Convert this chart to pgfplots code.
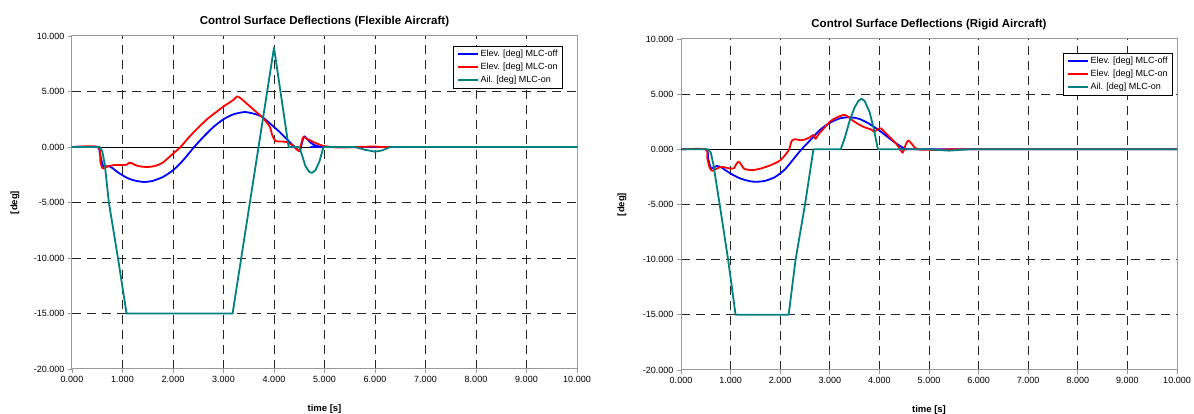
\documentclass[border=0pt]{standalone}
\usepackage{fontspec}
\setmainfont{Liberation Sans}
\usepackage{pgfplots}
\pgfplotsset{compat=1.18}
\definecolor{elevoff}{RGB}{0,0,255}
\definecolor{elevon}{RGB}{255,0,0}
\definecolor{ail}{RGB}{0,128,128}

\pgfplotsset{
  csd/.style={
    scale only axis,
    xmin=0, xmax=10, ymin=-20, ymax=10,
    xtick={1,2,...,9}, ytick={-15,-10,...,5},
    extra x ticks={0,10}, extra y ticks={-20,10},
    extra tick style={grid=none},
    grid=major,
    major grid style={black!85, line width=0.8pt, dash pattern=on 9pt off 6pt},
    axis line style={gray!80, line width=1pt},
    tick style={gray!80, line width=0.8pt},
    tick align=outside, major tick length=4pt,
    xtick pos=left, ytick pos=left,
    ticklabel style={font=\fontsize{9}{10}\selectfont},
    /pgf/number format/fixed,
    /pgf/number format/fixed zerofill,
    /pgf/number format/precision=3,
    /pgf/number format/assume math mode=true,
    xlabel={time [s]}, ylabel={[deg]},
    every axis x label/.style={at={(axis description cs:0.5,-0.12)}, anchor=center,
      font=\bfseries\fontsize{9.5}{11}\selectfont},
    every axis y label/.style={at={(axis description cs:-0.113,0.5)}, rotate=90, anchor=center,
      font=\bfseries\fontsize{9.5}{11}\selectfont},
    title style={font=\bfseries\fontsize{11.5}{13}\selectfont},
    legend style={draw=black, line width=0.6pt, fill=white,
      font=\fontsize{9}{10}\selectfont, anchor=north east,
      inner xsep=3pt, inner ysep=2pt, row sep=1pt},
    legend cell align=left,
    legend image code/.code={\draw[#1, line width=2pt] (0pt,0pt) -- (20pt,0pt);},
    every axis plot/.append style={line width=1.8pt, line join=round},
  }
}

\begin{document}
\begin{tikzpicture}
\useasboundingbox (0,0) rectangle (1194pt,414pt);

% flexible aircraft
\begin{axis}[csd, at={(72pt,45pt)}, anchor=south west,
  width=505pt, height=333pt,
  title={Control Surface Deflections (Flexible Aircraft)},
  legend style={at={(1,1)}, xshift=-14pt, yshift=-10pt}]
\addplot[black, line width=0.8pt, forget plot] coordinates {(0,0) (10,0)};
\addplot[elevoff, smooth, tension=0.4] coordinates {
(0,0)(0.5,0)(0.55,-0.6)(0.6,-1.5)(0.63,-1.8)(0.68,-1.75)(0.73,-1.72)(0.8,-1.9)
(0.9,-2.25)(1.0,-2.55)(1.1,-2.8)(1.2,-2.97)(1.3,-3.08)(1.44,-3.15)(1.6,-3.05)
(1.8,-2.7)(2.0,-2.1)(2.2,-1.2)(2.42,0)(2.6,0.9)(2.8,1.8)(3.0,2.5)(3.2,2.95)
(3.42,3.15)(3.6,3.0)(3.75,2.76)(3.9,2.2)(4.0,1.8)(4.1,1.4)(4.2,0.95)(4.31,0.45)
(4.4,0.05)(4.51,-0.36)(4.56,0.5)(4.6,0.96)(4.66,0.7)(4.72,0.4)(4.8,0.18)(4.91,0.03)(5.0,0)(10,0)};
\addplot[elevon, smooth, tension=0.4] coordinates {
(0,0)(0.52,0)(0.56,-1.3)(0.6,-1.9)(0.63,-1.95)(0.68,-1.8)(0.75,-1.7)(0.85,-1.62)
(1.0,-1.62)(1.08,-1.6)(1.13,-1.42)(1.18,-1.45)(1.25,-1.62)(1.35,-1.75)(1.5,-1.8)
(1.65,-1.7)(1.8,-1.4)(2.0,-0.6)(2.15,0)(2.3,0.8)(2.5,1.75)(2.7,2.6)(2.9,3.3)
(3.0,3.65)(3.15,4.1)(3.2,4.25)(3.27,4.56)(3.35,4.35)(3.45,3.95)(3.6,3.35)
(3.75,2.75)(3.85,2.25)(3.92,1.8)(3.97,1.0)(4.03,0.55)(4.1,0.5)(4.25,0.45)
(4.38,0.1)(4.5,-0.36)(4.55,0.5)(4.58,0.9)(4.65,0.75)(4.78,0.45)(4.9,0.22)
(5.0,0.08)(5.3,-0.05)(6.0,0.05)(6.3,0)(10,0)};
\addplot[ail] coordinates {
(0,0)(0.55,0)(0.6,-0.4)(0.65,-1.6)(0.73,-5)(0.91,-10)(1.08,-15)(3.18,-15)
(4.0,8.95)(4.29,0)(4.5,0)(4.56,-0.8)(4.62,-1.7)(4.7,-2.25)(4.75,-2.33)
(4.82,-2.1)(4.9,-1.3)(4.98,0)(5.6,0)(5.8,-0.25)(6.0,-0.42)(6.15,-0.3)(6.3,0)(10,0)};
\legend{Elev. [deg] MLC-off, Elev. [deg] MLC-on, Ail. [deg] MLC-on}
\end{axis}

% rigid aircraft
\begin{axis}[csd, at={(681pt,44pt)}, anchor=south west,
  width=496pt, height=331pt,
  title={Control Surface Deflections (Rigid Aircraft)},
  ylabel style={at={(axis description cs:-0.119,0.5)}},
  legend style={at={(1,1)}, xshift=-4pt, yshift=-14pt}]
\addplot[black, line width=0.8pt, forget plot] coordinates {(0,0) (10,0)};
\addplot[elevoff, smooth, tension=0.4] coordinates {
(0,0)(0.5,0)(0.55,-0.9)(0.6,-1.7)(0.65,-1.65)(0.72,-1.52)(0.8,-1.6)(1.0,-2.2)
(1.2,-2.65)(1.4,-2.9)(1.54,-2.94)(1.7,-2.85)(1.9,-2.5)(2.1,-1.8)(2.3,-0.7)
(2.43,0)(2.6,0.8)(2.8,1.75)(3.0,2.4)(3.2,2.8)(3.4,2.91)(3.6,2.75)(3.8,2.3)
(4.0,1.7)(4.2,1.0)(4.4,0.35)(4.55,0)(4.7,0)(10,0)};
\addplot[elevon, smooth, tension=0.4] coordinates {
(0,0)(0.5,0)(0.53,-0.8)(0.58,-1.7)(0.63,-1.95)(0.7,-1.8)(0.8,-1.6)(0.9,-1.65)
(1.0,-1.75)(1.07,-1.7)(1.12,-1.3)(1.16,-1.12)(1.2,-1.3)(1.27,-1.75)(1.35,-1.85)
(1.46,-1.88)(1.6,-1.75)(1.8,-1.45)(2.0,-1.0)(2.17,-0.1)(2.23,0.75)(2.3,0.92)
(2.4,0.82)(2.5,0.9)(2.6,1.1)(2.67,1.3)(2.71,0.95)(2.78,1.4)(2.9,2.0)(3.0,2.5)
(3.1,2.8)(3.23,3.05)(3.3,3.12)(3.37,2.95)(3.45,2.65)(3.57,2.3)(3.7,2.0)
(3.83,1.8)(3.9,1.6)(3.97,1.85)(4.03,1.9)(4.1,1.6)(4.2,1.15)(4.3,0.7)(4.4,0.15)
(4.47,-0.3)(4.52,0.3)(4.58,0.8)(4.67,0.4)(4.77,0)(5.2,-0.05)(5.6,0)(10,0)};
\addplot[ail] coordinates {
(0,0)(0.55,0)(0.6,-0.3)(0.65,-1.3)(0.78,-5)(0.95,-10)(1.1,-15)(2.17,-15)
(2.31,-10)(2.5,-5)(2.67,0)(3.22,0)(3.3,1.0)(3.4,2.6)(3.5,3.8)(3.58,4.4)
(3.64,4.58)(3.7,4.4)(3.8,3.4)(3.88,2.0)(3.97,0)(5.0,0)(5.4,-0.12)(5.8,0)(10,0)};
\legend{Elev. [deg] MLC-off, Elev. [deg] MLC-on, Ail. [deg] MLC-on}
\end{axis}
\end{tikzpicture}
\end{document}
